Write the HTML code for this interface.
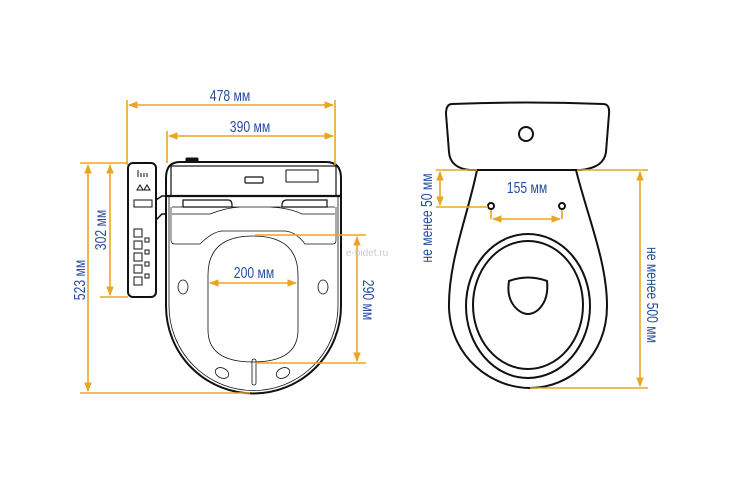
<!DOCTYPE html>
<html><head><meta charset="utf-8"><style>
html,body{margin:0;padding:0;background:#fff;}
svg{display:block}
.d{stroke:#e8a623;stroke-width:1.6;fill:none}
.t{font-family:"Liberation Sans",sans-serif;font-size:16px;fill:#264d9e;}
.k{stroke:#111;fill:none}
</style></head><body>
<svg width="750" height="500" viewBox="0 0 750 500" xmlns="http://www.w3.org/2000/svg">
<defs>
<marker id="a" viewBox="0 0 10 10" refX="9" refY="5" markerWidth="6" markerHeight="6" orient="auto-start-reverse"><path d="M0,1 L10,5 L0,9 z" fill="#e8a623"/></marker>
</defs>
<g class="k">
<path d="M166,178 Q166,162 180,162 L326,162 Q341,162 341,178 L341,306 A87.5,87.5 0 0 1 166,306 Z" stroke-width="2"/>
<path d="M169,196 L169,306 A84.5,84.5 0 0 0 338,306 L338,196" stroke-width="0.8"/>
<rect x="171" y="166" width="165" height="30" stroke-width="1.2"/>
<line x1="166" y1="196" x2="341" y2="196" stroke-width="2.2"/>
<rect x="245" y="177" width="18" height="6" rx="1" stroke-width="1.2"/>
<rect x="286" y="170" width="32" height="12" stroke-width="1"/>
<path d="M183,200 L228,200 Q232,200 232,205 L232,207 L183,207 Z M282,207 L282,205 Q282,200 287,200 L327,200 L327,207 Z" stroke-width="1.2"/>
<path d="M172,207 L335,207 M172,214 L210,214 Q225,208 240,207 L270,207 Q290,208 302,214 L335,214" stroke-width="0.7"/>
<path d="M171,207 L171,240 Q171,244 175,244 L200,244 Q212,232 222,231 L285,231 Q296,232 305,244 L333,244 Q336,244 336,240 L336,207" stroke-width="0.7"/>
<path d="M208,275 Q208,236 253,236 Q298,236 298,275 L298,330 Q298,362 253,362 Q208,362 208,330 Z" stroke-width="0.8"/>
<ellipse cx="183" cy="287" rx="5" ry="7" stroke-width="0.8"/>
<ellipse cx="323" cy="287" rx="5" ry="7" stroke-width="0.8"/>
<ellipse cx="222" cy="373" rx="7" ry="5" transform="rotate(25 222 373)" stroke-width="0.8"/>
<ellipse cx="283" cy="373" rx="7" ry="5" transform="rotate(-25 283 373)" stroke-width="0.8"/>
<rect x="252" y="359" width="4" height="26" rx="2" stroke-width="0.8"/>
<rect x="186" y="158" width="12" height="4" rx="1" fill="#111"/>
<rect x="128" y="163" width="28" height="134" rx="5" stroke-width="2"/>
<path d="M156,200 L162,196 L166,196 M156,220 L162,214 L166,214" stroke-width="1.5"/>
</g>
<g fill="none" stroke="#111" stroke-width="1">
<path d="M138,170 v7 M141,173 v4 M144,173 v4 M147,173 v4"/>
<path d="M137,190 l3,-5 l3,5 z M144,190 l3,-5 l3,5 z"/>
<rect x="134" y="200" width="18" height="7"/>
<rect x="134" y="229" width="8" height="8"/><rect x="134" y="241" width="8" height="8"/><rect x="134" y="253" width="8" height="8"/><rect x="134" y="265" width="8" height="8"/><rect x="134" y="277" width="8" height="8"/>
<rect x="145" y="238" width="4" height="4"/><rect x="145" y="250" width="4" height="4"/><rect x="145" y="262" width="4" height="4"/><rect x="145" y="274" width="4" height="4"/>
</g>
<g class="d">
<line x1="127" y1="100" x2="127" y2="165"/><line x1="335" y1="100" x2="335" y2="165"/><line x1="167" y1="131" x2="167" y2="163"/>
<line x1="129" y1="105" x2="333" y2="105" marker-start="url(#a)" marker-end="url(#a)"/>
<line x1="169" y1="136" x2="333" y2="136" marker-start="url(#a)" marker-end="url(#a)"/>
<line x1="80" y1="163" x2="128" y2="163"/><line x1="80" y1="393" x2="250" y2="393"/><line x1="100" y1="297" x2="128" y2="297"/>
<line x1="88" y1="165" x2="88" y2="391" marker-start="url(#a)" marker-end="url(#a)"/>
<line x1="110" y1="165" x2="110" y2="295" marker-start="url(#a)" marker-end="url(#a)"/>
<line x1="210" y1="283" x2="296" y2="283" marker-start="url(#a)" marker-end="url(#a)"/>
<line x1="255" y1="235" x2="366" y2="235"/><line x1="255" y1="363" x2="366" y2="363"/>
<line x1="357" y1="237" x2="357" y2="361" marker-start="url(#a)" marker-end="url(#a)"/>
</g>
<g class="t" text-anchor="middle">
<text transform="translate(230,101) scale(0.76,1)">478 мм</text>
<text transform="translate(250,132) scale(0.76,1)">390 мм</text>
<text transform="translate(254,278) scale(0.76,1)">200 мм</text>
<text transform="translate(85,280) rotate(-90) scale(0.76,1)">523 мм</text>
<text transform="translate(106,230) rotate(-90) scale(0.76,1)">302 мм</text>
<text transform="translate(363,300) rotate(90) scale(0.76,1)">290 мм</text>
</g>
<text x="346" y="256" font-family="Liberation Sans,sans-serif" font-size="10" fill="#ccc">e-bidet.ru</text>
<g class="k" stroke-width="2">
<path d="M452,104 Q527,101 603,104 Q610,104 609,114 L606,152 Q604,168 580,170 L470,170 Q450,168 449,152 L446,114 Q446,104 452,104 Z"/>
<circle cx="526" cy="134" r="7"/>
<path d="M477,170 C468,215 448,262 449,308 C451,358 492,388 530,388 C570,388 607,356 607,306 C607,262 588,218 576,170"/>
<ellipse cx="528" cy="306" rx="62" ry="72"/>
<ellipse cx="528" cy="305" rx="55" ry="64"/>
<path d="M509,281 Q528,274 547,281 Q549,300 538,310 Q528,318 518,310 Q506,300 509,281 Z"/>
<circle cx="491" cy="206" r="3"/><circle cx="562" cy="206" r="3"/>
</g>
<g class="d">
<line x1="436" y1="170" x2="477" y2="170"/><line x1="436" y1="207" x2="488" y2="207"/>
<line x1="440" y1="172" x2="440" y2="205" marker-start="url(#a)" marker-end="url(#a)"/>
<path d="M491,210 v9 M562,210 v9"/>
<line x1="493" y1="219" x2="560" y2="219" marker-start="url(#a)" marker-end="url(#a)"/>
<line x1="577" y1="170" x2="648" y2="170"/><line x1="530" y1="388" x2="648" y2="388"/>
<line x1="640" y1="172" x2="640" y2="386" marker-start="url(#a)" marker-end="url(#a)"/>
</g>
<g class="t" text-anchor="middle">
<text transform="translate(527,193) scale(0.76,1)">155 мм</text>
<text transform="translate(432,218) rotate(-90) scale(0.76,1)">не менее 50 мм</text>
<text transform="translate(647,295) rotate(90) scale(0.76,1)">не менее  500 мм</text>
</g>
</svg>
</body></html>
